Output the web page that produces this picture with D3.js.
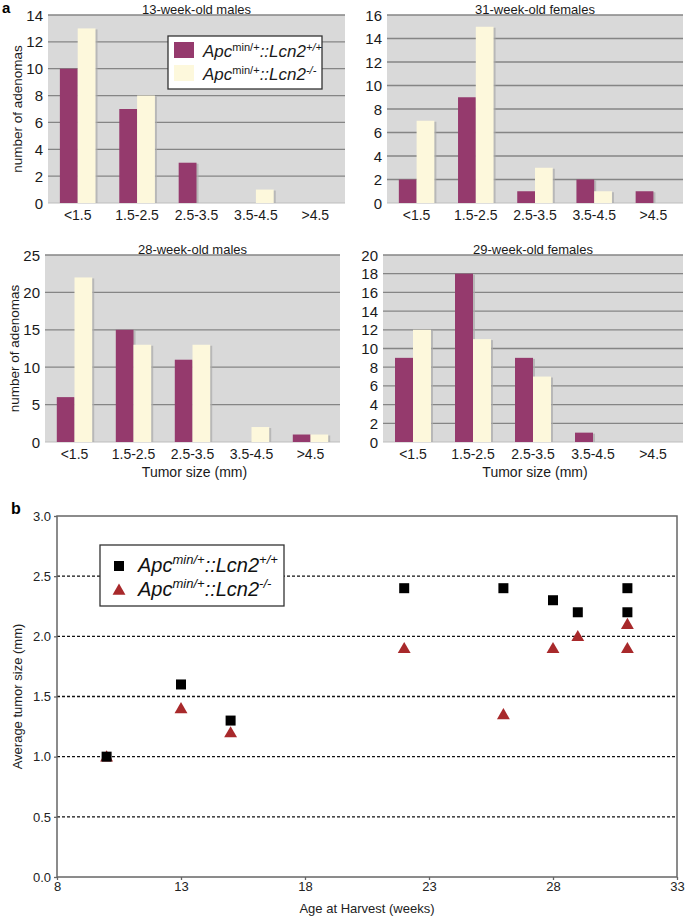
<!DOCTYPE html>
<html>
<head>
<meta charset="utf-8">
<script src="https://cdn.jsdelivr.net/npm/d3@7"></script>
<style>
  body { margin: 0; background: #fff; }
  svg { display: block; font-family: "Liberation Sans", Arial, sans-serif; }
</style>
</head>
<body>
<div id="chart"></div>
<script>
// tumour size classes (mm)
var sizeClasses = ["<1.5", "1.5-2.5", "2.5-3.5", "3.5-4.5", ">4.5"];
var genotypes = ["wt", "ko"];

// adenoma counts per size class
var males13Wt = [10, 7, 3, 0, 0];
var males13Ko = [13, 8, 0, 1, 0];
var females31Wt = [2, 9, 1, 2, 1];
var females31Ko = [7, 15, 3, 1, 0];
var males28Wt = [6, 15, 11, 0, 1];
var males28Ko = [22, 13, 13, 2, 1];
var females29Wt = [9, 18, 9, 1, 0];
var females29Ko = [12, 11, 7, 0, 0];

// average tumour size vs age at harvest
var weeksWt = [10, 13, 15, 22, 26, 28, 29, 31, 31];
var sizeWt = [1.0, 1.6, 1.3, 2.4, 2.4, 2.3, 2.2, 2.4, 2.2];
var weeksKo = [10, 13, 15, 22, 26, 28, 29, 31, 31];
var sizeKo = [1.0, 1.4, 1.2, 1.9, 1.35, 1.9, 2.0, 2.1, 1.9];

var purple = "#953a6d";
var cream = "#fdf8dc";
var red = "#a8292b";

var svg = d3.select("#chart").append("svg")
    .attr("width", 685)
    .attr("height", 920);

function histPanel(opt) {
    var g = svg.append("g");
    var x0 = d3.scaleBand().domain(sizeClasses)
        .range([opt.left, opt.right])
        .paddingInner(0.4).paddingOuter(0.2);
    var x1 = d3.scaleBand().domain(genotypes).range([0, x0.bandwidth()]);
    var y = d3.scaleLinear().domain([0, opt.max]).range([opt.bottom, opt.top]);

    g.append("rect")
        .attr("x", opt.left).attr("y", opt.top)
        .attr("width", opt.right - opt.left)
        .attr("height", opt.bottom - opt.top)
        .attr("fill", "#d9d9d9");

    var ticks = d3.range(0, opt.max + 0.001, opt.step);
    g.selectAll("line.grid").data(ticks.filter(function(d) { return d > 0; }))
        .enter().append("line")
        .attr("x1", opt.left).attr("x2", opt.right)
        .attr("y1", function(d) { return y(d); })
        .attr("y2", function(d) { return y(d); })
        .attr("stroke", "#858585").attr("stroke-width", 1.3);
    g.append("line")
        .attr("x1", opt.left).attr("x2", opt.right)
        .attr("y1", y(0)).attr("y2", y(0))
        .attr("stroke", "#bdbdbd").attr("stroke-width", 1);

    var rows = sizeClasses.map(function(c, i) {
        return { cat: c, wt: opt.wt[i], ko: opt.ko[i] };
    });
    var groups = g.selectAll("g.cls").data(rows).enter().append("g")
        .attr("transform", function(d) { return "translate(" + x0(d.cat) + ",0)"; });
    var bars = groups.selectAll("g.bar")
        .data(function(d) { return genotypes.map(function(k) { return { key: k, value: d[k] }; }); })
        .enter().append("g")
        .filter(function(d) { return d.value > 0; });
    // faint shadow on the right of each bar
    bars.append("rect")
        .attr("x", function(d) { return x1(d.key) + 2; })
        .attr("y", function(d) { return y(d.value) + 1; })
        .attr("width", x1.bandwidth())
        .attr("height", function(d) { return y(0) - y(d.value) - 1; })
        .attr("fill", "#a9a9a9").attr("opacity", 0.7);
    bars.append("rect")
        .attr("x", function(d) { return x1(d.key); })
        .attr("y", function(d) { return y(d.value); })
        .attr("width", x1.bandwidth())
        .attr("height", function(d) { return y(0) - y(d.value); })
        .attr("fill", function(d) { return d.key === "wt" ? purple : cream; });

    g.selectAll("text.ytick").data(ticks).enter().append("text")
        .attr("x", opt.left - 5)
        .attr("y", function(d) { return y(d) + 5.5; })
        .attr("text-anchor", "end")
        .attr("font-size", 15)
        .attr("fill", "#1a1a1a")
        .text(function(d) { return d; });

    g.selectAll("text.xtick").data(sizeClasses).enter().append("text")
        .attr("x", function(d) { return x0(d) + x0.bandwidth() / 2; })
        .attr("y", opt.bottom + 17)
        .attr("text-anchor", "middle")
        .attr("font-size", 14)
        .attr("fill", "#1a1a1a")
        .text(function(d) { return d; });

    g.append("text")
        .attr("x", (opt.left + opt.right) / 2)
        .attr("y", opt.top - 1)
        .attr("text-anchor", "middle")
        .attr("font-size", 13)
        .attr("fill", "#1a1a1a")
        .text(opt.title);

    if (opt.ylabel) {
        g.append("text")
            .attr("transform", "translate(" + opt.ylabelX + "," + ((opt.top + opt.bottom) / 2) + ") rotate(-90)")
            .attr("text-anchor", "middle")
            .attr("font-size", 13.5)
            .attr("fill", "#1a1a1a")
            .text("number of adenomas");
    }
    if (opt.xlabel) {
        g.append("text")
            .attr("x", (opt.left + opt.right) / 2 + 2)
            .attr("y", opt.bottom + 35)
            .attr("text-anchor", "middle")
            .attr("font-size", 14)
            .attr("fill", "#1a1a1a")
            .text("Tumor size (mm)");
    }
}

function genoLabel(sel, sup1, sup2, size, supItalic) {
    sel.append("tspan").attr("font-style", "italic").text("Apc");
    sel.append("tspan").attr("font-size", size * 0.65).attr("dy", -size * 0.38)
        .attr("font-style", supItalic ? "italic" : "normal").text(sup1);
    sel.append("tspan").attr("font-style", "italic").attr("dy", size * 0.38).text("::Lcn2");
    sel.append("tspan").attr("font-size", size * 0.65).attr("dy", -size * 0.38)
        .attr("font-style", "italic").text(sup2);
}

histPanel({ left: 48, right: 345, top: 15, bottom: 203, max: 14, step: 2,
    wt: males13Wt, ko: males13Ko, title: "13-week-old males", ylabel: true, ylabelX: 22 });
histPanel({ left: 387, right: 683, top: 15, bottom: 203, max: 16, step: 2,
    wt: females31Wt, ko: females31Ko, title: "31-week-old females" });
histPanel({ left: 45, right: 340, top: 255, bottom: 442, max: 25, step: 5,
    wt: males28Wt, ko: males28Ko, title: "28-week-old males", ylabel: true, ylabelX: 19, xlabel: true });
histPanel({ left: 383, right: 683, top: 255, bottom: 442, max: 20, step: 2,
    wt: females29Wt, ko: females29Ko, title: "29-week-old females", xlabel: true });

// legend of panel a
var legA = svg.append("g");
legA.append("rect").attr("x", 168).attr("y", 36).attr("width", 154).attr("height", 53)
    .attr("fill", "#fff").attr("stroke", "#333").attr("stroke-width", 1.3);
[["+/+", purple], ["-/-", cream]].forEach(function(d, i) {
    legA.append("rect").attr("x", 174).attr("y", 42 + i * 23).attr("width", 20).attr("height", 16)
        .attr("fill", d[1]);
    var t = legA.append("text").attr("x", 203).attr("y", 57 + i * 23)
        .attr("font-size", 17).attr("fill", "#1a1a1a");
    genoLabel(t, "min/+", d[0], 17, false);
});

svg.append("text").attr("x", 2).attr("y", 13).attr("font-size", 15).attr("font-weight", "bold").text("a");
svg.append("text").attr("x", 11).attr("y", 514).attr("font-size", 16).attr("font-weight", "bold").text("b");

// panel b: scatter
var bx = d3.scaleLinear().domain([8, 33]).range([57, 677]);
var by = d3.scaleLinear().domain([0, 3]).range([877, 516]);
var gb = svg.append("g");

gb.selectAll("line.grid").data([0.5, 1.0, 1.5, 2.0, 2.5]).enter().append("line")
    .attr("x1", bx(8)).attr("x2", bx(33))
    .attr("y1", function(d) { return by(d); }).attr("y2", function(d) { return by(d); })
    .attr("stroke", "#111").attr("stroke-width", 1.3).attr("stroke-dasharray", "3,2");
gb.append("rect").attr("x", bx(8)).attr("y", by(3))
    .attr("width", bx(33) - bx(8)).attr("height", by(0) - by(3))
    .attr("fill", "none").attr("stroke", "#666").attr("stroke-width", 1.5);

var yAxisB = d3.axisLeft(by).tickValues([0, 0.5, 1, 1.5, 2, 2.5, 3])
    .tickFormat(d3.format(".1f")).tickSize(3).tickPadding(3);
var yg = gb.append("g").attr("transform", "translate(" + bx(8) + ",0)").call(yAxisB);
var xAxisB = d3.axisBottom(bx).tickValues([8, 13, 18, 23, 28, 33]).tickSize(3).tickPadding(2);
var xg = gb.append("g").attr("transform", "translate(0," + by(0) + ")").call(xAxisB);
[yg, xg].forEach(function(a) {
    a.select(".domain").remove();
    a.selectAll(".tick line").attr("stroke", "#666").attr("stroke-width", 1.3);
    a.selectAll(".tick text").attr("font-size", 13).attr("fill", "#222")
        .attr("font-family", "'Liberation Sans', Arial, sans-serif");
});

gb.append("text").attr("x", 367).attr("y", 913).attr("text-anchor", "middle")
    .attr("font-size", 13).attr("fill", "#222").text("Age at Harvest (weeks)");
gb.append("text")
    .attr("transform", "translate(22," + ((by(0) + by(3)) / 2) + ") rotate(-90)")
    .attr("text-anchor", "middle").attr("font-size", 13).attr("fill", "#222")
    .text("Average tumor size (mm)");

var tri = d3.symbol().type(d3.symbolTriangle).size(72);
gb.selectAll("path.ko").data(weeksKo.map(function(w, i) { return [w, sizeKo[i]]; }))
    .enter().append("path")
    .attr("d", tri)
    .attr("transform", function(d) { return "translate(" + bx(d[0]) + "," + (by(d[1]) + 1) + ")"; })
    .attr("fill", red);
gb.selectAll("rect.wt").data(weeksWt.map(function(w, i) { return [w, sizeWt[i]]; }))
    .enter().append("rect")
    .attr("x", function(d) { return bx(d[0]) - 5; })
    .attr("y", function(d) { return by(d[1]) - 5; })
    .attr("width", 10).attr("height", 10)
    .attr("fill", "#000");

// legend of panel b
var legB = svg.append("g");
legB.append("rect").attr("x", 100).attr("y", 545).attr("width", 184).attr("height", 61)
    .attr("fill", "#fff").attr("stroke", "#333").attr("stroke-width", 1.3);
legB.append("rect").attr("x", 114).attr("y", 561).attr("width", 10).attr("height", 10).attr("fill", "#000");
legB.append("path").attr("d", tri).attr("transform", "translate(119,591)").attr("fill", red);
[["+/+", 572], ["-/-", 596]].forEach(function(d) {
    var t = legB.append("text").attr("x", 138).attr("y", d[1])
        .attr("font-size", 20).attr("fill", "#111");
    genoLabel(t, "min/+", d[0], 20, true);
});
</script>
</body>
</html>
